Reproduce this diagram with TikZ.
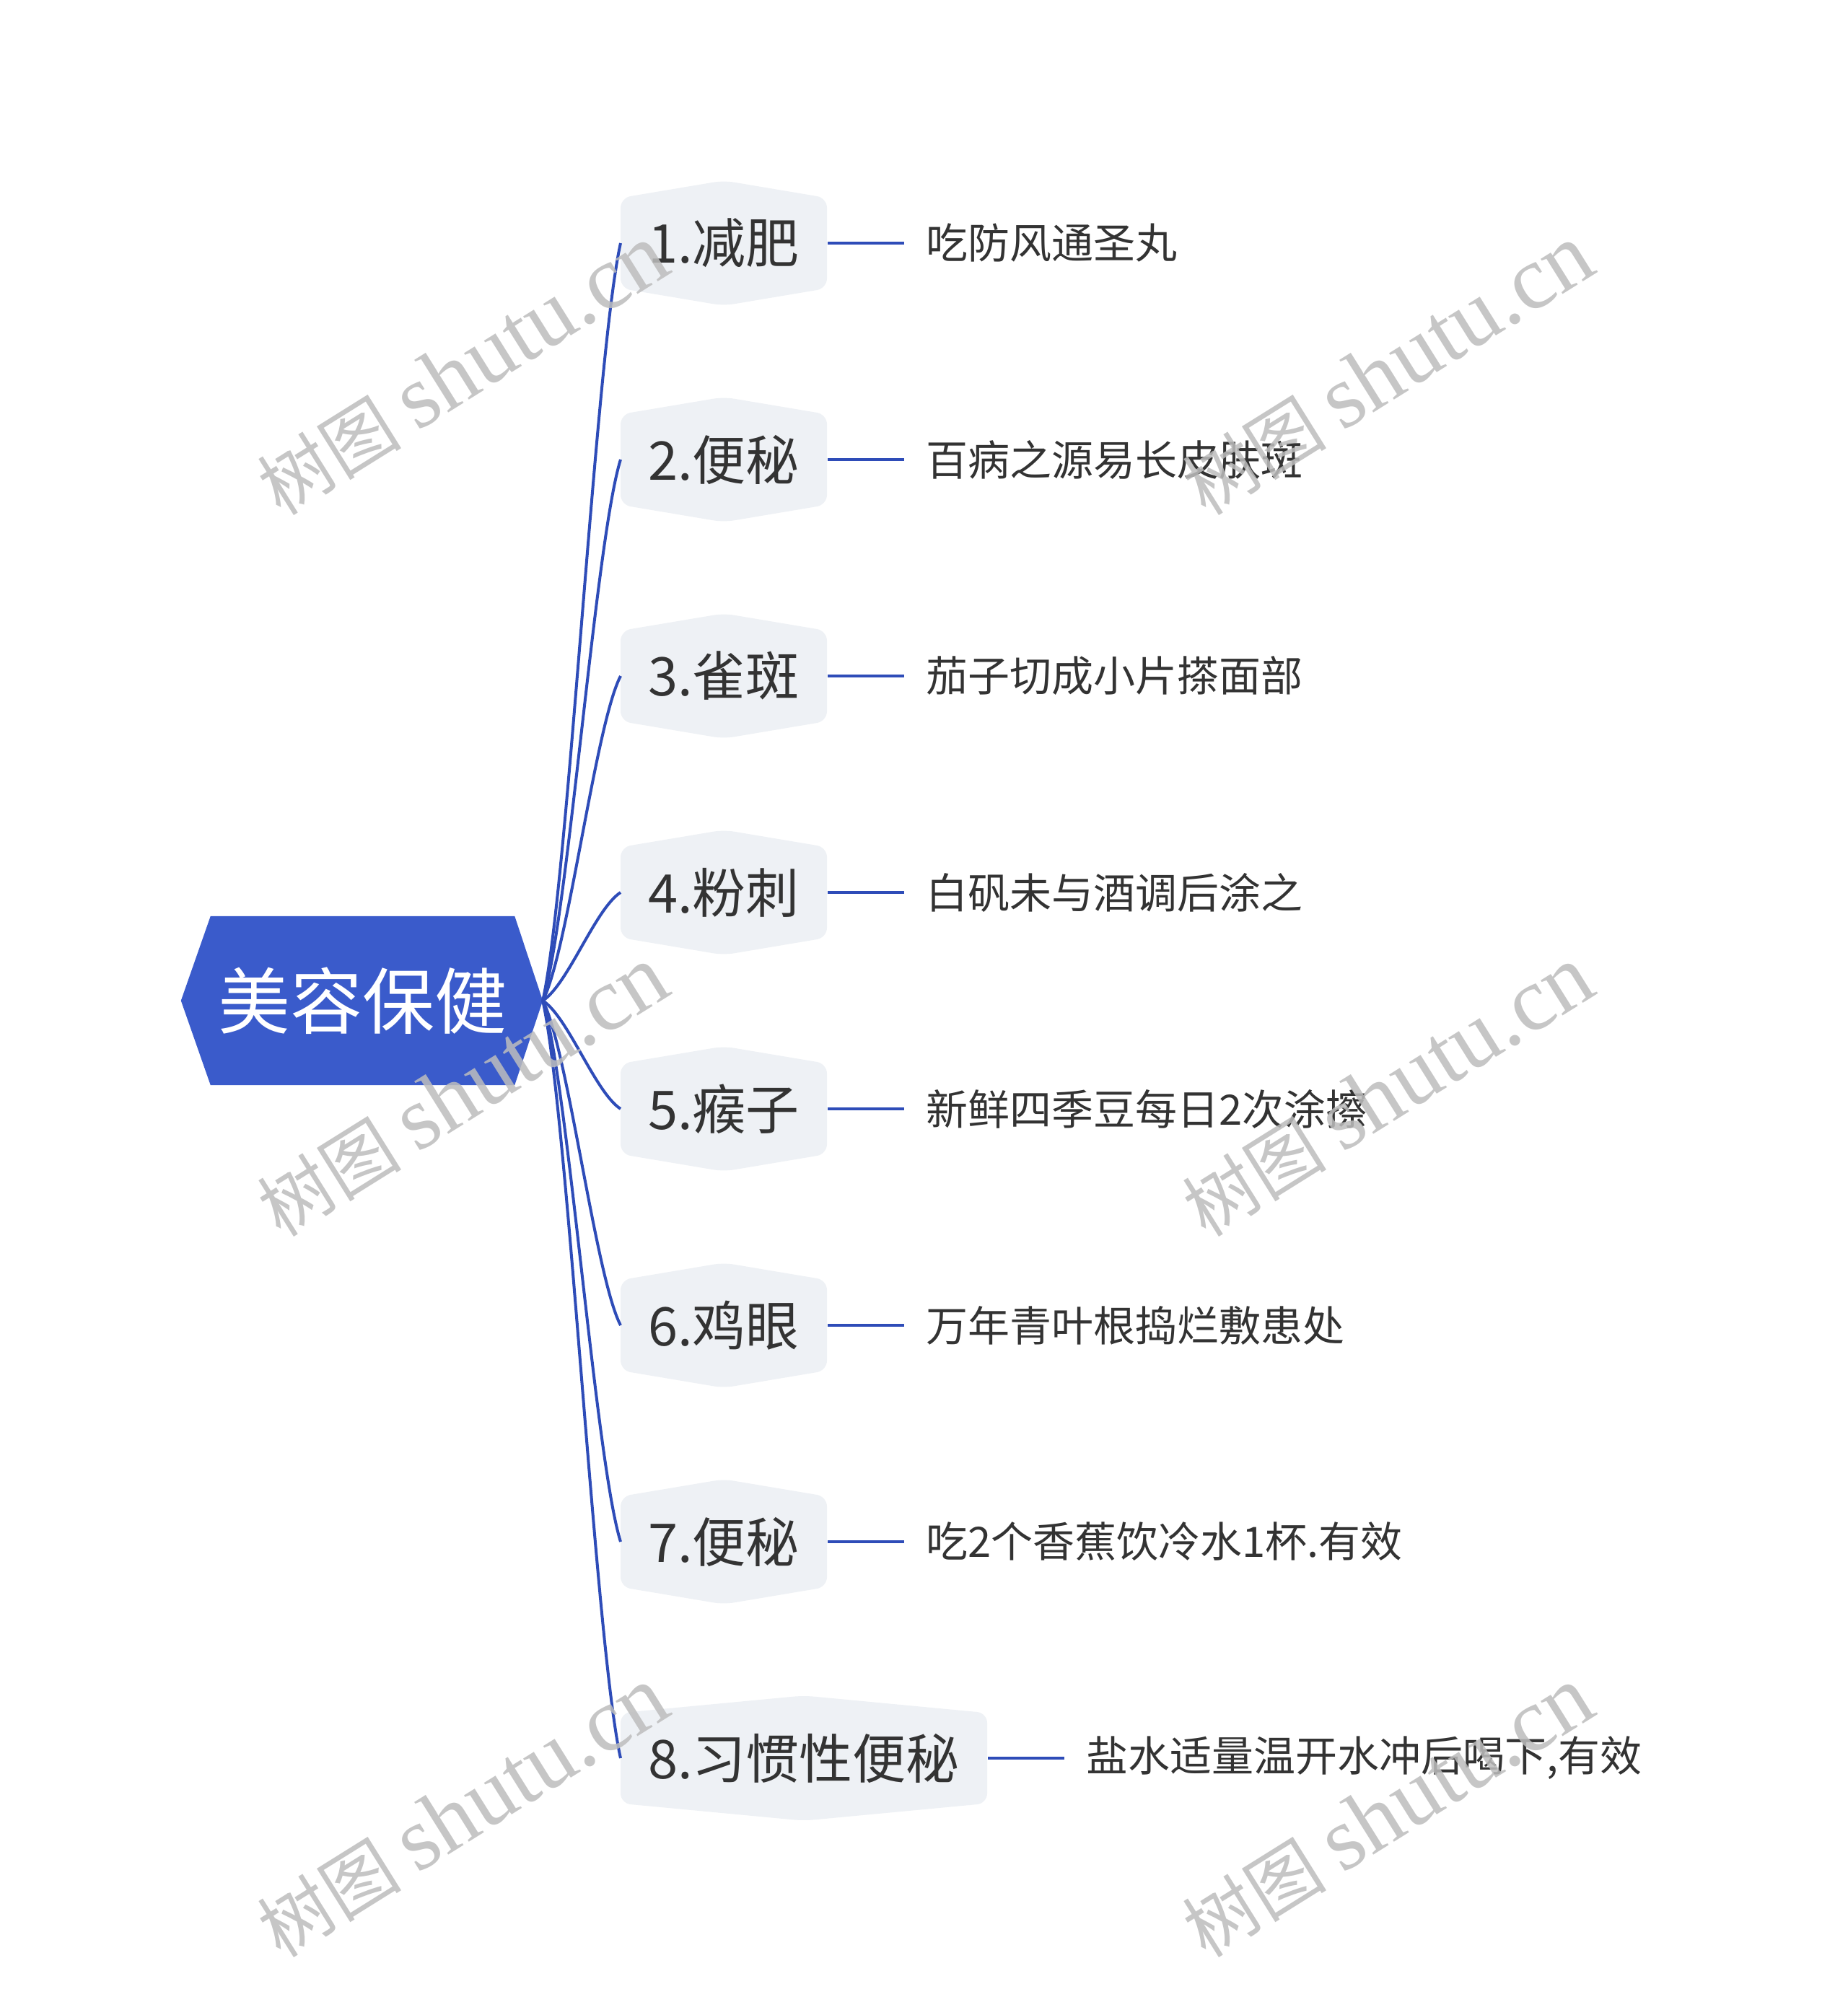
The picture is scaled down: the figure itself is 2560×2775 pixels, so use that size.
\documentclass[tikz,border=0pt]{standalone}
\usepackage{fontspec}
\setmainfont{Noto Sans CJK SC}
\newfontfamily\wmlat{Liberation Serif}
\usetikzlibrary{calc,backgrounds}
\definecolor{rootblue}{HTML}{3A5BCB}
\definecolor{linkblue}{HTML}{2E4CB8}
\definecolor{brfill}{HTML}{EEF1F5}
\definecolor{txt}{HTML}{333333}
\definecolor{wm}{HTML}{BDBDBD}
\begin{document}
\begin{tikzpicture}[x=1pt,y=-1pt,
  rootnode/.style={inner sep=0pt, minimum width=421pt, minimum height=234pt, text=white, font=\fontsize{100}{110}\selectfont},
  branch/.style={anchor=west, inner ysep=0pt, inner xsep=38pt, minimum height=125pt, text=txt, font=\fontsize{74}{80}\selectfont},
  leaf/.style={anchor=west, inner sep=0pt, text=txt, font=\fontsize{58}{64}\selectfont},
  link/.style={draw=linkblue, line width=4pt},
  wmark/.style={text=wm, opacity=0.85, rotate=32, inner sep=0pt, font=\fontsize{100}{110}\selectfont}
]
\useasboundingbox (0,0) rectangle (2560,2775);
\begin{scope}[on background layer]
  \fill[white] (0,0) rectangle (2560,2775);
\end{scope}

% root
\node[rootnode] (root) at (502.5,1387) {美容保健};
\coordinate (rootr) at ($(root.east)+(39,0)$);
\coordinate (rootl) at ($(root.west)+(-41,0)$);
\begin{scope}[on background layer]
  \fill[rootblue] (root.north west) -- (root.north east) -- (rootr) -- (root.south east) -- (root.south west) -- (rootl) -- cycle;
\end{scope}

\foreach \i/\t/\l in {
  1/{1.减肥}/{吃防风通圣丸},
  2/{2.便秘}/{百病之源易长皮肤斑},
  3/{3.雀斑}/{茄子切成小片搽面部},
  4/{4.粉刺}/{白矾未与酒调后涂之},
  5/{5.瘊子}/{新鲜四季豆每日2次涂擦},
  6/{6.鸡眼}/{万年青叶根捣烂敷患处},
  7/{7.便秘}/{吃2个香蕉饮冷水1杯.有效},
  8/{8.习惯性便秘}/{盐水适量温开水冲后喝下,有效}}{
  \pgfmathsetmacro\yy{337+300*(\i-1)}
  \pgfmathsetmacro\dd{0.15*(\yy-1387)}
  \node[branch] (b\i) at (860,\yy) {\t};
  \begin{scope}[on background layer]
    \fill[brfill, rounded corners=14pt] (b\i.north west) -- ($(b\i.north)+(0,-24)$) -- (b\i.north east)
      -- (b\i.south east) -- ($(b\i.south)+(0,24)$) -- (b\i.south west) -- cycle;
  \end{scope}
  \draw[link] (rootr) .. controls ($(rootr)+(35,\dd)$) and ($(b\i.west)+(-35,-\dd)$) .. (b\i.west);
  \node[leaf] (l\i) at ($(b\i.east)+(137,0)$) {\l};
  \draw[link] ($(b\i.east)+(1,0)$) -- ($(l\i.west)+(-30,0)$);
}

% watermarks
\foreach \n/\wx/\wy in {1/641/513, 2/1923/513, 3/641/1513, 4/1923/1513, 5/641/2512, 6/1923/2512}{
  \node[wmark] (w\n) at (\wx,\wy) {树图 {\wmlat\fontsize{125}{130}\selectfont shutu.cn}};
}
\end{tikzpicture}
\end{document}
